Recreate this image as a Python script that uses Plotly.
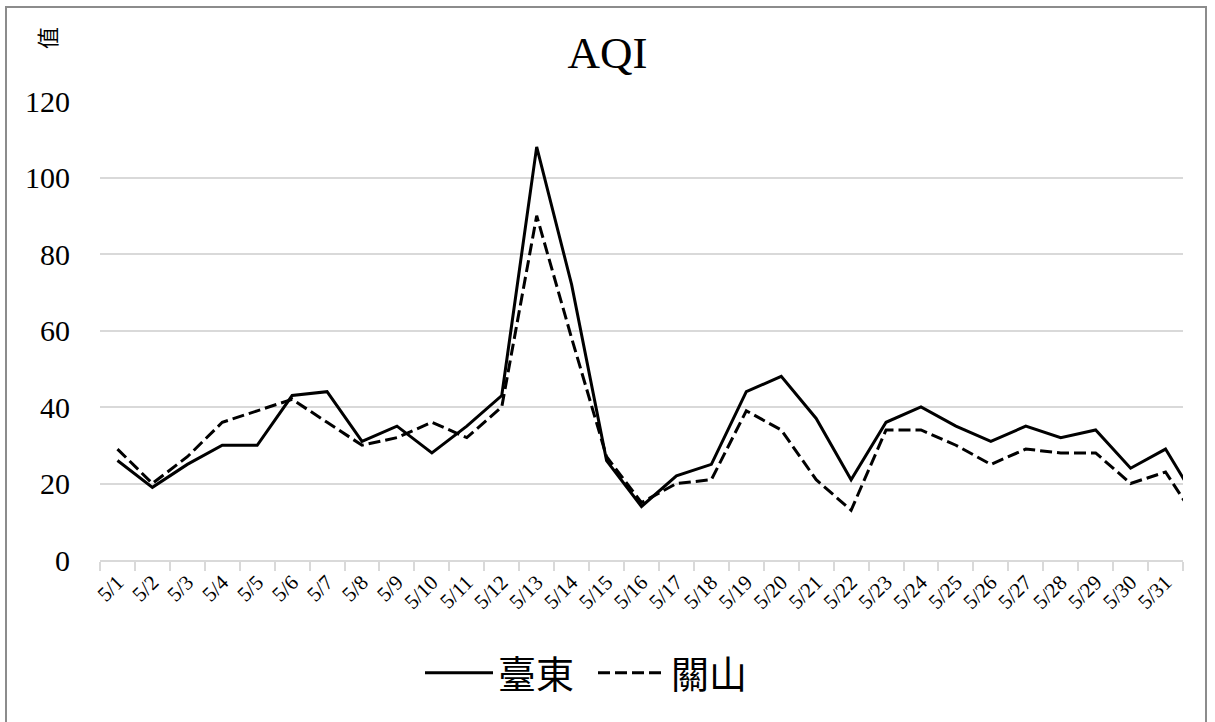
import plotly.graph_objects as go

dates = [f"5/{d}" for d in range(1, 32)] + ["6/1"]
taitung = [26, 19, 25, 30, 30, 43, 44, 31, 35, 28, 35, 43, 108, 72, 26, 14,
           22, 25, 44, 48, 37, 21, 36, 40, 35, 31, 35, 32, 34, 24, 29, 14]
guanshan = [29, 20, 27, 36, 39, 42, 36, 30, 32, 36, 32, 40, 90, 58, 27, 15,
            20, 21, 39, 34, 21, 13, 34, 34, 30, 25, 29, 28, 28, 20, 23, 9]
series_names = ["臺東", "關山"]
y_ticks = [0, 20, 40, 60, 80, 100, 120]

serif = "Liberation Serif, Times New Roman, serif"
cjk = "Noto Sans CJK TC, Noto Sans CJK SC, sans-serif"

fig = go.Figure()
fig.add_trace(go.Scatter(x=dates, y=taitung, name=series_names[0], mode="lines",
                         line=dict(color="black", width=3)))
fig.add_trace(go.Scatter(x=dates, y=guanshan, name=series_names[1], mode="lines",
                         line=dict(color="black", width=3, dash="12px,5px")))

L, R, T, B = 100, 32, 101, 162
W, H = 1215, 722
pw, ph = W - L - R, H - T - B

def px(x):
    return (x - L) / pw

def py(y):
    return (H - B - y) / ph

fig.update_layout(
    width=W, height=H,
    margin=dict(l=L, r=R, t=T, b=B),
    paper_bgcolor="white", plot_bgcolor="white",
    title=dict(text="AQI", x=0.5, xref="container", y=1 - 52 / H, yref="container",
               xanchor="center", yanchor="middle",
               font=dict(family=serif, size=45, color="black")),
    showlegend=True,
    legend=dict(orientation="h", x=px(593), y=py(673), xanchor="center", yanchor="middle",
                font=dict(family=cjk, size=38, color="black"), itemwidth=68,
                entrywidth=90, bgcolor="rgba(0,0,0,0)"),
    xaxis=dict(type="category", range=[-0.5, 30.5], tickson="boundaries",
               ticks="outside", ticklen=9, tickcolor="#d9d9d9", tickwidth=1.5,
               showline=True, linecolor="#d9d9d9", linewidth=1.5,
               showgrid=False, tickangle=-45,
               tickfont=dict(family=serif, size=21, color="black")),
    yaxis=dict(range=[0, 120], tickvals=y_ticks, showgrid=True, gridcolor="#d9d9d9",
               gridwidth=1.5, zeroline=False, showline=False, ticks="",
               ticklabelstandoff=29,
               tickfont=dict(family=serif, size=30, color="black")),
    annotations=[dict(text="值", x=px(46), y=py(38), xref="paper", yref="paper",
                      xanchor="center", yanchor="middle",
                      showarrow=False, textangle=-90,
                      font=dict(family=cjk, size=22, color="black"))],
    shapes=[dict(type="rect", xref="paper", yref="paper",
                 x0=px(6), x1=px(1206), y0=py(730), y1=py(7),
                 line=dict(color="#8c8c8c", width=2), layer="below")],
)

fig.write_html("out.html")
